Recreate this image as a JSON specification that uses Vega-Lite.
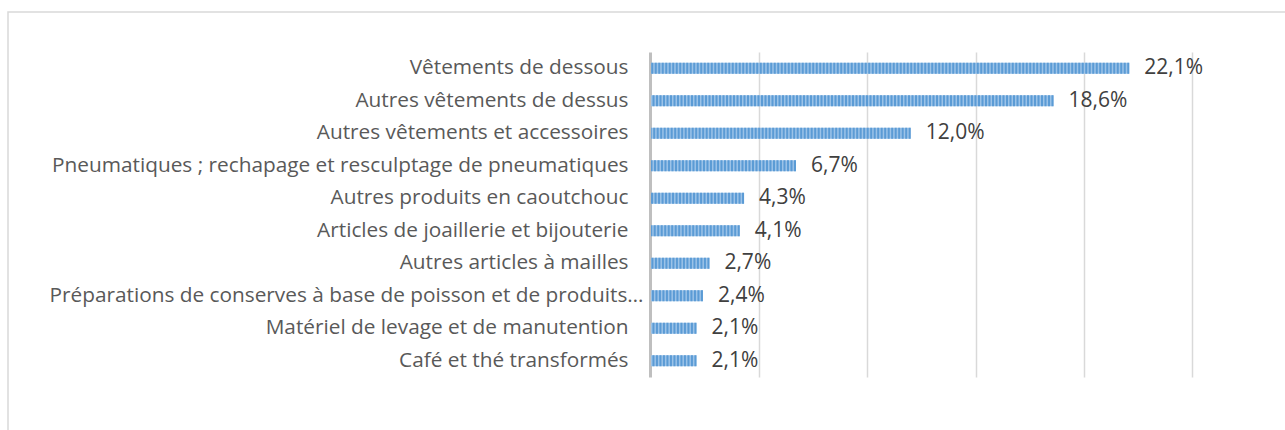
{
  "$schema": "https://vega.github.io/schema/vega-lite/v6.json",
  "width": 1285,
  "height": 430,
  "autosize": {"type": "none"},
  "padding": {"left": 8, "top": 12, "right": 0, "bottom": 0},
  "background": "white",
  "config": {
    "view": {"stroke": "#d9d9d9", "strokeWidth": 1.5},
    "font": "Open Sans",
    "locale": {"number": {"decimal": ",", "thousands": " ", "grouping": [3], "currency": ["", " €"], "percent": "%"}}
  },
  "data": {
    "values": [
      {"produit": "Vêtements de dessous", "part": 0.221},
      {"produit": "Autres vêtements de dessus", "part": 0.186},
      {"produit": "Autres vêtements et accessoires", "part": 0.120},
      {"produit": "Pneumatiques ; rechapage et resculptage de pneumatiques", "part": 0.067},
      {"produit": "Autres produits en caoutchouc", "part": 0.043},
      {"produit": "Articles de joaillerie et bijouterie", "part": 0.041},
      {"produit": "Autres articles à mailles", "part": 0.027},
      {"produit": "Préparations de conserves à base de poisson et de produits…", "part": 0.024},
      {"produit": "Matériel de levage et de manutention", "part": 0.021},
      {"produit": "Café et thé transformés", "part": 0.021}
    ]
  },
  "encoding": {
    "y": {
      "field": "produit",
      "type": "nominal",
      "sort": null,
      "title": null,
      "scale": {"range": [40, 365], "paddingInner": 0.66, "paddingOuter": 0.33},
      "axis": {
        "orient": "left",
        "offset": -642,
        "domainColor": "#bfbfbf",
        "domainWidth": 3,
        "ticks": false,
        "tickSize": 0,
        "grid": false,
        "labelPadding": {"condition": {"test": "indexof(datum.label, '…') >= 0", "value": 7}, "value": 22},
        "labelFont": "Open Sans",
        "labelFontSize": 20.8,
        "labelColor": "#595959",
        "labelLimit": 800
      }
    }
  },
  "layer": [
    {
      "mark": {"type": "bar", "color": "#9cc3e8"},
      "encoding": {
        "x": {
          "field": "part",
          "type": "quantitative",
          "scale": {"domain": [0, 0.25], "range": [643, 1184], "nice": false},
          "axis": {
            "orient": "top",
            "grid": true,
            "gridColor": "#d9d9d9",
            "gridWidth": 1.5,
            "labels": false,
            "ticks": false,
            "domain": false,
            "title": null,
            "values": [0.05, 0.1, 0.15, 0.2, 0.25]
          }
        }
      }
    },
    {
      "mark": {"type": "rule", "color": "#5b9bd5", "strokeWidth": 11, "strokeDash": [2, 1.5], "strokeCap": "butt"},
      "encoding": {
        "x": {"field": "part", "type": "quantitative"},
        "x2": {"datum": 0}
      }
    },
    {
      "mark": {"type": "text", "align": "left", "baseline": "middle", "dx": 15, "fontSize": 21, "font": "Open Sans", "color": "#404040"},
      "encoding": {
        "x": {"field": "part", "type": "quantitative"},
        "text": {"field": "part", "type": "quantitative", "format": ".1%"}
      }
    }
  ]
}
